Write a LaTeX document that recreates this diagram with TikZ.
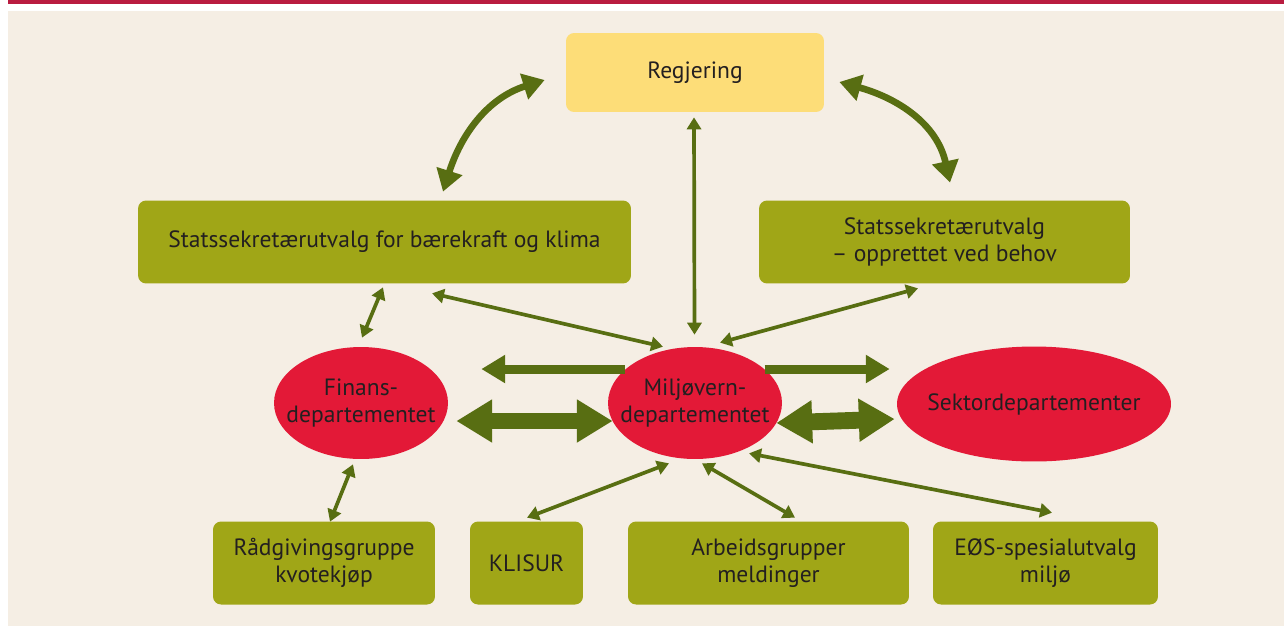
\documentclass[tikz,border=0pt]{standalone}
\usepackage{fontspec}
\setmainfont{PT Sans}
\usetikzlibrary{shapes.geometric}
\usetikzlibrary{arrows.meta}
\usetikzlibrary{calc}

\definecolor{pagebeige}{RGB}{245,238,228}
\definecolor{barred}{RGB}{185,28,64}
\definecolor{boxgreen}{RGB}{160,166,23}
\definecolor{govyellow}{RGB}{253,221,120}
\definecolor{deptred}{RGB}{227,25,55}
\definecolor{arrowgreen}{RGB}{88,110,18}
\definecolor{inktext}{RGB}{35,31,32}

\tikzset{
  labelfont/.style={font=\fontsize{13.4pt}{15.3pt}\selectfont, text=inktext},
  box/.style={rectangle, rounded corners=0.16cm, fill=boxgreen, align=center,
    inner sep=0pt, minimum height=1.66cm, labelfont},
  dept/.style={ellipse, fill=deptred, inner sep=0pt,
    minimum width=3.48cm, minimum height=2.24cm},
  depttext/.style={label={[labelfont, align=center]center:{#1}}},
  thinarrow/.style={draw=arrowgreen, line width=2.1pt,
    {Triangle[width=8pt,length=6.8pt]}-{Triangle[width=8pt,length=6.8pt]}},
  midarrow/.style={draw=arrowgreen, line width=5.1pt,
    -{Triangle[width=15.3pt,length=13.6pt]}},
  fatarrow/.style={draw=arrowgreen, line width=9.6pt,
    {Triangle[width=23.2pt,length=20.4pt]}-{Triangle[width=23.2pt,length=20.4pt]}},
  bowarrow/.style={draw=arrowgreen, line width=3.8pt,
    {Triangle[width=14.7pt,length=12.3pt]}-{Triangle[width=14.7pt,length=12.3pt]}},
}

\begin{document}
\begin{tikzpicture}[x=0.02cm, y=-0.02cm]
  \useasboundingbox (0,0) rectangle (1284,626);
  \fill[barred] (8,0) rectangle (1284,3.5);
  \fill[pagebeige] (8,11) rectangle (1284,626);

  % top level
  \node[box, fill=govyellow, minimum width=5.16cm, minimum height=1.58cm] (reg) at (695,72.5) {Regjering};
  \node[box, minimum width=9.86cm] (sbk) at (384.5,242) {Statssekretærutvalg for bærekraft og klima};
  \node[box, minimum width=7.42cm] (sob) at (944.5,242) {Statssekretærutvalg\\– opprettet ved behov};

  % departments
  \node[dept, depttext={Finans-\\departementet}] (fin) at (361,403) {};
  \node[dept, depttext={Miljøvern-\\departementet}] (milj) at (695,403) {};
  \node[dept, minimum width=5.48cm, minimum height=2.3cm, depttext={Sektordepartementer}] (sek) at (1034,404) {};

  % working groups
  \node[box, minimum width=4.44cm] (rad) at (324,563) {Rådgivingsgruppe\\kvotekjøp};
  \node[box, minimum width=2.26cm] (kli) at (526.5,563) {KLISUR};
  \node[box, minimum width=5.62cm] (arb) at (768.5,563) {Arbeidsgrupper\\meldinger};
  \node[box, minimum width=4.5cm] (eos) at (1045.5,563) {EØS-spesialutvalg\\miljø};

  % curved links to the government
  \draw[bowarrow] ($(sbk.north)+(58.5,-8.5)$) .. controls +(18,-57) and +(-57,18) .. ($(reg.west)+(-21,7.5)$);
  \draw[bowarrow] ($(reg.east)+(15,9.5)$) .. controls +(58,16) and +(-13,-59) .. ($(sob.north)+(5.5,-17.5)$);

  % thin links
  \draw[thinarrow] ($(reg.south)+(-1,5)$) -- ($(milj.north)+(-0.5,-12)$);
  \draw[thinarrow] ($(sbk.south)+(47.5,9.5)$) -- ($(milj.north)+(-32,0)$);
  \draw[thinarrow] ($(sob.south)+(-26.5,4.5)$) -- ($(milj.north)+(25,-4)$);
  \draw[thinarrow] ($(sbk.south)+(-1.5,3.5)$) -- ($(fin.north)+(1,-9)$);
  \draw[thinarrow] ($(fin.south)+(-8,5)$) -- ($(rad.north)+(6,0.5)$);
  \draw[thinarrow] ($(milj.south)+(-26,4)$) -- ($(kli.north)+(0.5,-3.5)$);
  \draw[thinarrow] ($(milj.south)+(7,4)$) -- ($(arb.north)+(26.5,-3.5)$);
  \draw[thinarrow] ($(milj.south)+(54,-6)$) -- ($(eos.north)+(6.5,-8.5)$);

  % wide links
  \draw[midarrow] (milj.154) -- ++(-144,0);
  \draw[midarrow] (milj.26) -- ++(125,0);
  \draw[fatarrow] ($(fin.east)+(8,18)$) -- ($(milj.west)+(5,18)$);
  \draw[fatarrow] ($(milj.east)+(-6,20)$) -- ($(sek.west)+(-2,15)$);
\end{tikzpicture}
\end{document}
